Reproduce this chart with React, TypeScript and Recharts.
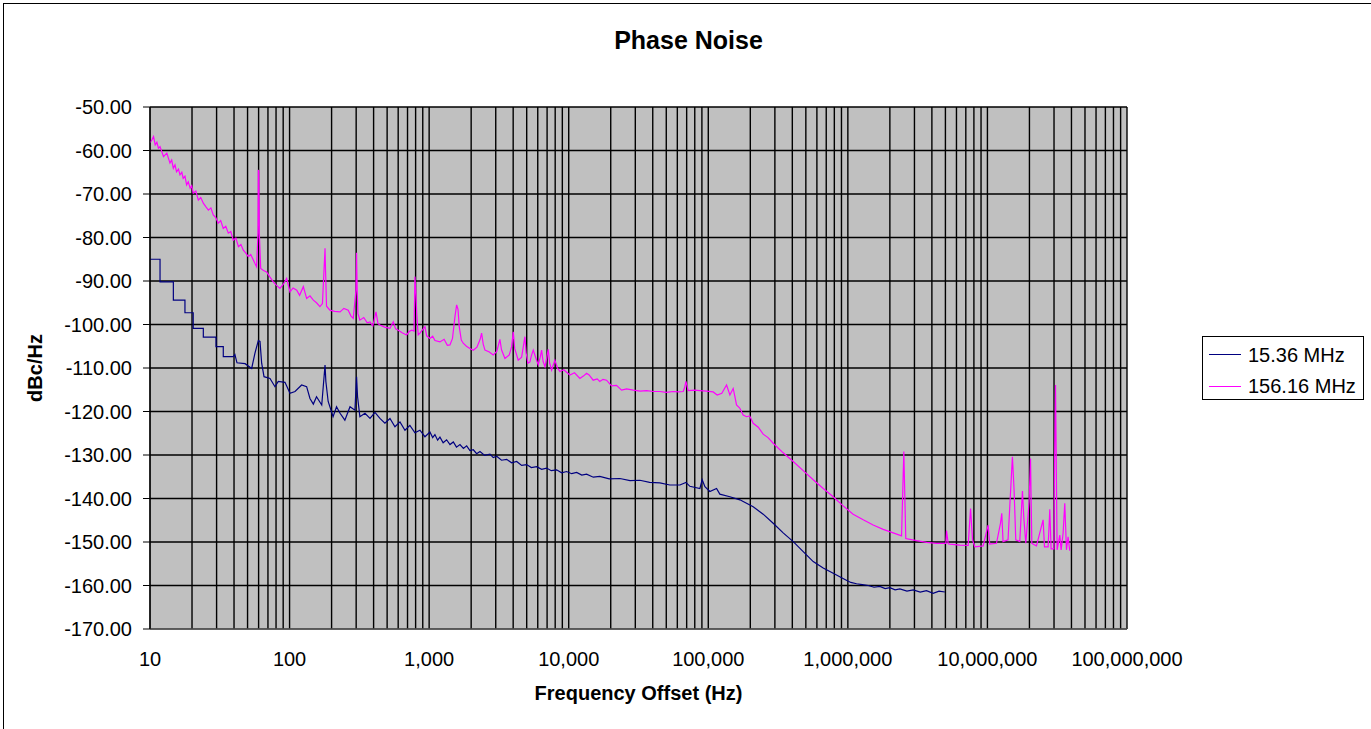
import { CartesianGrid, Line, LineChart, XAxis, YAxis } from 'recharts';

const FONT = '"Liberation Sans", Arial, sans-serif';

const seriesNames = ['15.36 MHz', '156.16 MHz'];
const seriesColors = ['#000080', '#FF00FF'];

// 15.36 MHz trace
const navyFreq = [
    10, 11.8, 11.8, 14.7, 14.7, 17.8, 17.8, 20.4, 20.4, 24.1, 24.1, 29.7, 29.7, 33.5, 33.5, 39.5,
    40.6, 42, 48, 53.5, 56.5, 59.7, 61.4, 63.1, 65.6, 72.4, 78.6, 83, 92.7, 100.7, 109.4, 122,
    132.5, 140, 148, 156, 170, 179.5, 182, 189, 205, 217, 230, 249, 271, 294, 302, 307, 319, 347,
    377, 409, 444, 482, 524, 569, 618, 671, 728, 791, 859, 933, 1013, 1060, 1100, 1150, 1195, 1260,
    1334, 1410, 1490, 1570, 1663, 1760, 1857, 1960, 2072, 2190, 2313, 2500, 2728, 2880, 3046, 3300,
    3593, 3900, 4237, 4600, 4994, 5400, 5888, 6400, 6946, 7500, 8190, 8900, 9660, 10500, 11400,
    12400, 13430, 15000, 16700, 19500, 23270, 27500, 32360, 38000, 45000, 53000, 62620, 69180,
    73800, 87100, 90400, 94600, 102600, 114600, 121000, 142800, 168400, 209700, 247300, 291700,
    344000, 406000, 478700, 564600, 665800, 785300, 952400, 1050000, 1154000, 1270000, 1400000,
    1540000, 1695000, 1850000, 2000000, 2180000, 2360000, 2650000, 2939000, 3300000, 3660000,
    4085000, 4500000, 4955000,
];
const navyDb = [
    -85.0, -85.0, -90.2, -90.2, -94.4, -94.4, -97.3, -97.3, -100.9, -100.9, -102.9, -102.9, -105.1, -105.1, -107.4, -107.4,
    -106.9, -108.8, -109.0, -110.1, -106.6, -103.7, -103.9, -108.9, -112.0, -112.4, -114.3, -113.1, -113.3, -115.8, -115.4, -113.9,
    -114.3, -117.0, -118.3, -116.6, -118.5, -109.3, -113.1, -117.7, -121.2, -118.9, -120.4, -122.0, -118.9, -119.7, -112.0, -116.6, -121.2, -120.4,
    -121.6, -120.2, -121.6, -122.7, -121.6, -123.5, -122.4, -124.3, -123.2, -124.9, -124.3, -125.8, -124.7, -126.0, -125.3, -126.6, -125.9, -127.2,
    -126.5, -127.6, -127.0, -128.2, -127.6, -128.5, -127.9, -129.0, -128.8, -129.7, -129.2, -130.1, -129.8, -130.6, -130.3, -131.2,
    -131.0, -131.8, -131.5, -132.4, -132.2, -132.9, -132.7, -133.3, -133.0, -133.6, -133.4, -134.1, -133.8, -134.3, -134.0,
    -134.6, -134.4, -135.1, -134.9, -135.5, -135.4, -135.9, -135.8, -136.3, -136.4, -136.9, -136.9, -136.3,
    -137.2, -137.7, -135.7, -137.3, -138.4, -137.7, -139.0, -139.6, -140.3, -141.9, -143.6, -145.7,
    -147.9, -149.9, -152.2, -154.5, -156.0, -157.2, -158.6, -159.3, -159.6, -159.8, -160.0,
    -160.4, -160.2, -160.7, -160.5, -161.0, -160.8, -161.3, -161.0, -161.5, -161.2,
    -161.8, -161.3, -161.5,
];

// 156.16 MHz trace
const pinkFreq = [
    10, 10.3, 10.6, 10.9, 11.2, 11.5, 11.8, 12.5, 13.2, 13.9, 14.3, 14.7, 15.1, 15.5, 16.0, 16.4,
    16.9, 17.3, 17.8, 18.3, 18.8, 19.4, 19.9, 20.4, 21.3, 22.2, 23.1, 24.1, 25.1, 26.2, 27.3, 28.4,
    29.6, 30.8, 32.1, 33.5, 34.9, 36.4, 37.9, 39.5, 41.2, 43.0, 44.8, 46.6, 48.6, 50.6, 52.7, 55.0,
    56.5, 58.0, 59.4, 59.7, 60.2, 60.7, 62.1, 65.0, 68.5, 72.0, 76.4, 80.0, 85.3, 90.0, 95.3, 100.7,
    106, 112.5, 118, 125.5, 132.5, 140, 148, 156, 165, 172, 179.5, 181, 184, 194.5, 210, 230, 245,
    263, 275, 286, 299, 302, 305, 309, 319, 340, 360, 377, 395, 416, 430, 444, 480, 524, 553, 575,
    601, 640, 690, 720, 750, 780, 791, 802, 815, 835, 859, 933, 960, 1013, 1060, 1100, 1195, 1280,
    1350, 1410, 1470, 1531, 1574, 1610, 1643, 1700, 1754, 1850, 1959, 2072, 2200, 2320, 2376, 2440,
    2512, 2700, 2879, 3050, 3214, 3300, 3492, 3750, 3900, 4007, 4100, 4347, 4600, 4854, 4950, 5100,
    5272, 5400, 5570, 5800, 6051, 6250, 6397, 6550, 6763, 6950, 7130, 7300, 7540, 7750, 7960, 8300,
    8650, 9200, 10200, 11000, 12030, 12800, 13430, 14000, 14970, 16000, 16700, 17600, 18660, 20270,
    22000, 23920, 26000, 28970, 32500, 36100, 40500, 45000, 50000, 56100, 61000, 66100, 67500, 69180,
    70500, 71800, 80000, 87100, 97000, 108400, 115800, 125000, 135200, 142800, 150800, 155000, 159300,
    168000, 177800, 187900, 198000, 209700, 228000, 247300, 268000, 291700, 344000, 406000, 478700,
    564600, 665800, 785300, 925000, 1091000, 1288000, 1518000, 1791000, 2113000, 2425000, 2464000,
    2518000, 2558000, 2600000, 3103000, 3660000, 4318000, 5034000, 5093000, 5236000, 5383000, 6340000,
    7277000, 7570000, 7820000, 8127000, 9317000, 10110000, 10390000, 11610000, 12400000, 12670000,
    12940000, 14050000, 15100000, 15520000, 15960000, 17050000, 17530000, 17820000, 18220000, 18830000,
    19900000, 20350000, 20800000, 22450000, 25060000, 25630000, 27210000, 27990000, 28580000, 29920000,
    30260000, 30750000, 31570000, 33010000, 33730000, 34850000, 35820000, 36830000, 37830000, 38880000,
];
const pinkDb = [
    -58.2, -57.6, -56.8, -58.7, -58.1, -59.5, -59.1, -61.4, -60.6, -62.9, -62.2, -64.1, -63.3, -64.9, -64.3, -65.6,
    -65.0, -66.4, -65.9, -67.9, -67.2, -68.7, -68.1, -69.8, -69.3, -71.4, -70.8, -72.1, -72.9, -73.7, -73.2, -74.8,
    -75.4, -76.7, -76.1, -77.9, -77.4, -79.0, -78.6, -80.6, -80.1, -82.1, -81.6, -82.9, -83.6, -84.4, -83.9, -85.2,
    -86.0, -86.7, -79.0, -64.5, -64.8, -79.0, -87.1, -87.6, -87.9, -89.0, -90.2, -90.9, -91.7, -90.8, -89.4, -92.5,
    -91.6, -92.1, -93.3, -91.3, -94.0, -93.4, -94.4, -95.0, -95.9, -95.2, -82.5, -87.5, -95.8, -96.7, -97.0, -97.1, -96.3,
    -96.7, -98.0, -98.6, -92.1, -83.5, -92.1, -97.5, -99.0, -98.4, -99.6, -99.4, -100.3, -97.1, -99.8, -100.1, -100.6, -100.9, -99.4, -101.0,
    -101.3, -101.9, -102.4, -101.6, -101.3, -101.5, -89.0, -92.1, -97.5, -102.4, -102.0, -100.5, -102.6, -103.2, -102.7, -103.7, -104.0, -103.4,
    -104.8, -104.7, -103.2, -98.2, -95.5, -96.5, -100.5, -103.6, -104.3, -105.0, -105.5, -105.9, -105.2, -103.4, -102.0, -104.5,
    -105.9, -106.3, -107.0, -106.2, -103.4, -105.8, -107.8, -107.0, -105.1, -101.7, -105.5, -108.2, -107.5, -102.8, -106.5, -108.9,
    -108.6, -107.2, -105.9, -107.6, -109.3, -107.5, -105.9, -108.5, -109.7, -107.8, -105.7, -108.9, -110.5, -109.3, -108.2, -110.0,
    -110.8, -110.4, -111.6, -111.1, -112.4, -111.8, -111.2, -111.6, -112.8, -112.5, -113.1, -112.6, -112.8, -114.1,
    -114.0, -115.1, -114.8, -115.1, -115.3, -115.2, -115.4, -115.4, -115.6, -115.4, -115.5, -115.4, -114.6, -113.1,
    -114.2, -115.2, -115.1, -115.2, -115.3, -115.5, -116.2, -115.8, -113.9, -116.2, -114.7, -116.5, -118.5,
    -119.2, -120.8, -121.2, -121.0, -122.7, -123.6, -125.2, -126.0, -127.3, -129.5, -131.5, -133.6,
    -135.7, -137.7, -139.6, -141.7, -143.6, -144.9, -146.1, -147.1, -147.9, -148.6, -140.3,
    -129.2, -139.2, -149.2, -149.7, -150.1, -150.3, -150.3, -147.4, -150.4, -150.5, -150.7,
    -150.8, -142.3, -149.5, -151.1, -150.9, -146.1, -150.5, -150.3, -145.7, -143.4,
    -149.9, -149.5, -130.4, -138.0, -149.5, -149.9, -142.6, -138.3, -144.4, -150.3,
    -140.7, -130.8, -150.3, -150.9, -144.9, -151.1, -151.1, -142.5, -151.6, -151.6,
    -132.3, -113.9, -151.8, -148.4, -151.8, -148.0, -141.1, -151.8, -148.8, -152.0,
];

const decadeTicks = [10, 100, 1000, 10000, 100000, 1000000, 10000000, 100000000];
const minorSteps = [2, 3, 4, 5, 6, 7, 8, 9];
const yTicks = [-170, -160, -150, -140, -130, -120, -110, -100, -90, -80, -70, -60, -50];

const xTicks = decadeTicks.flatMap((d, i) =>
    i < decadeTicks.length - 1 ? [d, ...minorSteps.map((m) => d * m)] : [d]
);

const navyData = navyFreq.map((f, i) => ({ f, db: navyDb[i] }));
const pinkData = pinkFreq.map((f, i) => ({ f, db: pinkDb[i] }));

function FreqTick(props: any) {
    const { x, y, payload } = props;
    if (!decadeTicks.includes(payload.value)) return null;
    return (
        <text x={x} y={y + 37} textAnchor="middle" fill="#000" fontSize={20} fontFamily={FONT}>
            {payload.value.toLocaleString('en-US')}
        </text>
    );
}

function LegendBox() {
    return (
        <div
            style={{
                position: 'absolute',
                left: 1202,
                top: 336,
                width: 160,
                height: 60,
                border: '1px solid #000',
                background: '#fff',
                fontFamily: FONT,
                fontSize: 20,
                color: '#000',
                paddingTop: 2,
                boxSizing: 'content-box',
            }}
        >
            {seriesNames.map((name, i) => (
                <div key={name} style={{ display: 'flex', alignItems: 'center', height: 31.5 }}>
                    <span
                        style={{ display: 'inline-block', marginLeft: 6, width: 32, height: 1, background: seriesColors[i] }}
                    />
                    <span style={{ marginLeft: 7, lineHeight: '20px' }}>{name}</span>
                </div>
            ))}
        </div>
    );
}

export default function App() {
    return (
        <div
            style={{
                position: 'absolute',
                left: 0,
                top: 0,
                width: 1371,
                height: 729,
                overflow: 'hidden',
                background: '#fff',
            }}
        >
            <div
                style={{
                    position: 'absolute',
                    left: 3,
                    top: 3,
                    width: 1400,
                    height: 800,
                    border: '1px solid #000',
                    pointerEvents: 'none',
                }}
            />
            <div
                style={{
                    position: 'absolute',
                    left: 0,
                    top: 28,
                    width: 1377,
                    textAlign: 'center',
                    fontFamily: FONT,
                    fontWeight: 'bold',
                    fontSize: 25,
                    lineHeight: '24px',
                }}
            >
                Phase Noise
            </div>
            <div
                style={{
                    position: 'absolute',
                    left: 35,
                    top: 368,
                    transform: 'translate(-50%, -50%) rotate(-90deg)',
                    whiteSpace: 'nowrap',
                    fontFamily: FONT,
                    fontWeight: 'bold',
                    fontSize: 20,
                    lineHeight: '20px',
                }}
            >
                dBc/Hz
            </div>
            <div
                style={{
                    position: 'absolute',
                    left: 0,
                    top: 683,
                    width: 1277,
                    textAlign: 'center',
                    fontFamily: FONT,
                    fontWeight: 'bold',
                    fontSize: 20,
                    lineHeight: '20px',
                }}
            >
                Frequency Offset (Hz)
            </div>
            <LineChart width={1371} height={729} margin={{ top: 107, right: 244, bottom: 50, left: 20 }}>
                <CartesianGrid stroke="#000" strokeWidth={1.4} fill="#C0C0C0" fillOpacity={1} />
                <XAxis
                    dataKey="f"
                    type="number"
                    scale="log"
                    domain={[10, 100000000]}
                    allowDataOverflow
                    ticks={xTicks}
                    interval={0}
                    height={50}
                    tickLine={false}
                    tickSize={0}
                    tickMargin={0}
                    axisLine={{ stroke: '#808080' }}
                    tick={<FreqTick />}
                />
                <YAxis
                    type="number"
                    domain={[-170, -50]}
                    ticks={yTicks}
                    interval={0}
                    width={130}
                    tickSize={7}
                    tickMargin={11}
                    axisLine={{ stroke: '#000' }}
                    tickLine={{ stroke: '#000' }}
                    tick={{ fill: '#000', fontSize: 20, fontFamily: FONT }}
                    tickFormatter={(v) => v.toFixed(2)}
                />
                <Line
                    data={navyData}
                    dataKey="db"
                    name={seriesNames[0]}
                    stroke={seriesColors[0]}
                    strokeWidth={1.2}
                    dot={false}
                    isAnimationActive={false}
                />
                <Line
                    data={pinkData}
                    dataKey="db"
                    name={seriesNames[1]}
                    stroke={seriesColors[1]}
                    strokeWidth={1.2}
                    dot={false}
                    isAnimationActive={false}
                />
            </LineChart>
            <LegendBox />
        </div>
    );
}
